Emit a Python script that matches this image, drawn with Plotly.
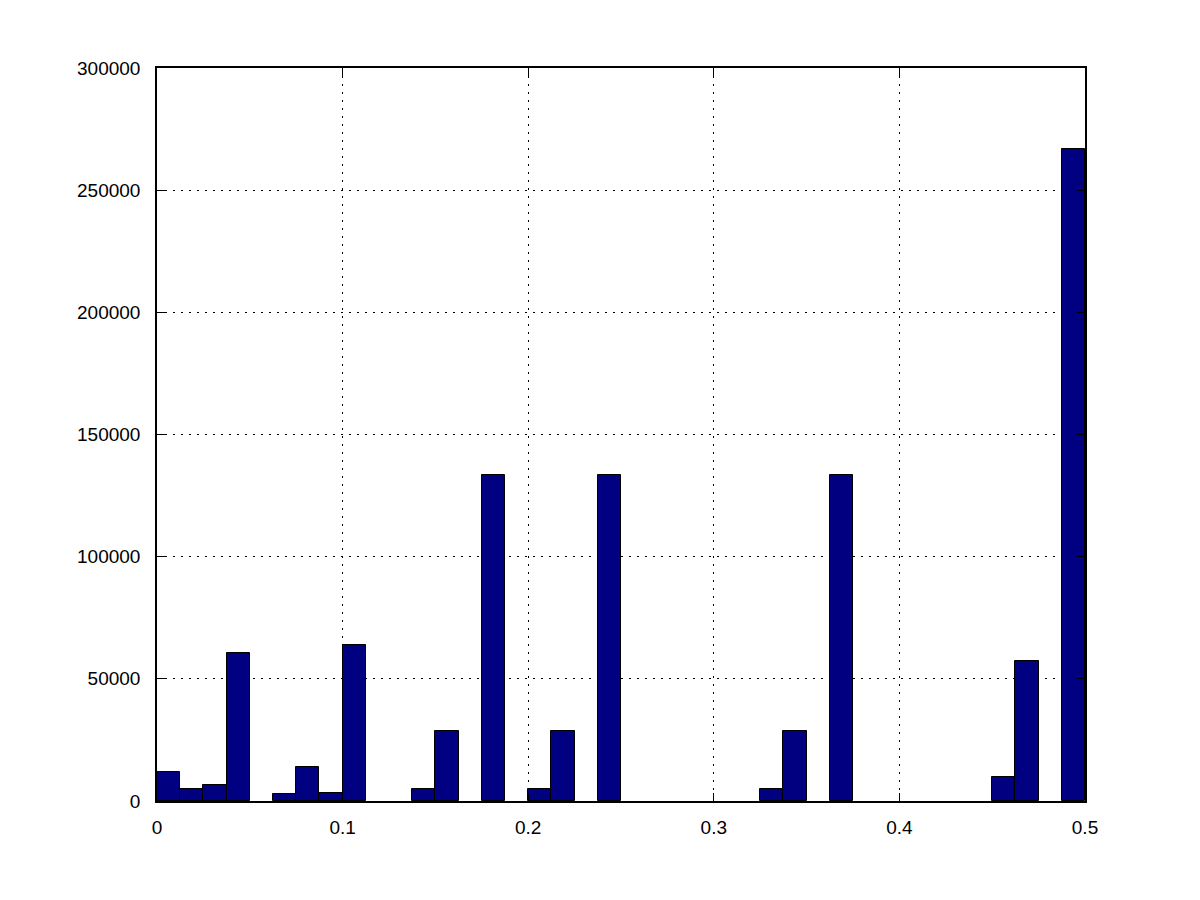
import plotly.graph_objects as go

# histogram: 40 bins of width 0.0125 over [0, 0.5]
bin_width = 0.0125
bin_index = [0, 1, 2, 3, 5, 6, 7, 8, 11, 12, 14, 16, 17, 19, 26, 27, 29, 36, 37, 39]
counts = [11900, 4900, 6500, 60500, 3000, 14000, 3400, 63800, 4900, 28600,
          133400, 4900, 28600, 133400, 4900, 28600, 133400, 9700, 57400, 266900]

x_ticks = [0, 0.1, 0.2, 0.3, 0.4, 0.5]
x_labels = ["0", "0.1", "0.2", "0.3", "0.4", "0.5"]
y_ticks = [0, 50000, 100000, 150000, 200000, 250000, 300000]
y_labels = ["0", "50000", "100000", "150000", "200000", "250000", "300000"]

centers = [(i + 0.5) * bin_width for i in bin_index]

fig = go.Figure()

fig.add_trace(go.Bar(
    x=centers,
    y=counts,
    width=bin_width,
    marker=dict(color="#000080", line=dict(color="black", width=1)),
    showlegend=False
))

axis_style = dict(
    showline=True, linecolor="black", linewidth=1.5, mirror="ticks",
    ticks="inside", ticklen=8, tickcolor="black",
    showgrid=True, gridcolor="black", gridwidth=1, griddash="2px,6px",
    zeroline=False,
    tickfont=dict(family="Liberation Sans, Arial, sans-serif", size=19, color="black")
)

fig.update_layout(
    width=1200, height=900,
    margin=dict(l=149, r=123, t=60, b=107),
    plot_bgcolor="white", paper_bgcolor="white",
    bargap=0,
    xaxis=dict(range=[0, 0.5], tickvals=x_ticks, ticktext=x_labels,
               ticklabelstandoff=8, **axis_style),
    yaxis=dict(range=[0, 300000], tickvals=y_ticks, ticktext=y_labels,
               ticklabelstandoff=11, **axis_style),
)

fig.write_html("out.html")
